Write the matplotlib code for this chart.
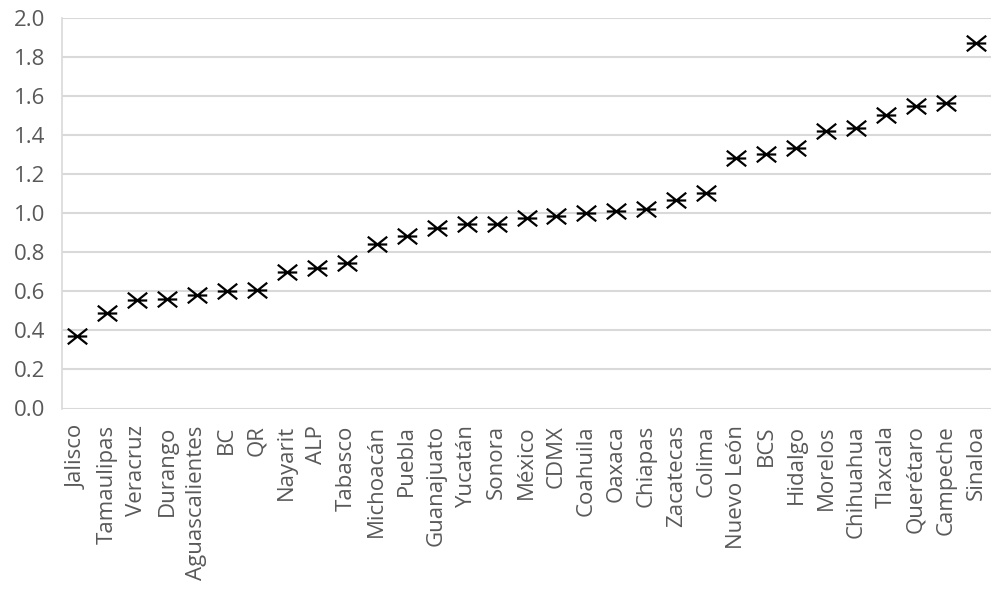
import matplotlib.pyplot as plt
from matplotlib.path import Path

# --- data ---
states = ['Jalisco', 'Tamaulipas', 'Veracruz', 'Durango', 'Aguascalientes', 'BC', 'QR',
          'Nayarit', 'ALP', 'Tabasco', 'Michoacán', 'Puebla', 'Guanajuato', 'Yucatán',
          'Sonora', 'México', 'CDMX', 'Coahuila', 'Oaxaca', 'Chiapas', 'Zacatecas',
          'Colima', 'Nuevo León', 'BCS', 'Hidalgo', 'Morelos', 'Chihuahua', 'Tlaxcala',
          'Querétaro', 'Campeche', 'Sinaloa']
values = [0.37, 0.49, 0.555, 0.56, 0.58, 0.60, 0.605,
          0.70, 0.72, 0.745, 0.84, 0.88, 0.925, 0.945,
          0.945, 0.975, 0.985, 1.00, 1.01, 1.02, 1.065,
          1.10, 1.28, 1.30, 1.33, 1.42, 1.435, 1.50,
          1.545, 1.565, 1.87]
y_ticks = [0.0, 0.2, 0.4, 0.6, 0.8, 1.0, 1.2, 1.4, 1.6, 1.8, 2.0]

plt.rcParams['font.family'] = ['Open Sans', 'DejaVu Sans']

# Excel-style "x with a bar" marker
star_x = Path([(-1, -0.8), (1, 0.8), (-1, 0.8), (1, -0.8), (-1, 0), (1, 0)],
              [Path.MOVETO, Path.LINETO, Path.MOVETO, Path.LINETO, Path.MOVETO, Path.LINETO])

fig = plt.figure(figsize=(10, 5.9), dpi=100)
ax = fig.add_axes([0.062, 1 - 408.5 / 590, 0.929, (408.5 - 17.5) / 590])

xs = list(range(len(states)))
ax.plot(xs, values, linestyle='none', marker=star_x, markersize=14,
        markeredgecolor='black', markerfacecolor='none', markeredgewidth=1.6, zorder=3)

ax.set_xlim(-0.5, len(states) - 0.5)
ax.set_ylim(0, 2.0)
ax.set_yticks(y_ticks)
ax.set_yticklabels([f'{t:.1f}' for t in y_ticks])
ax.set_xticks(xs)
ax.set_xticklabels(states, rotation=90)

ax.grid(axis='y', color='#d9d9d9', linewidth=1.5)
ax.set_axisbelow(True)
for side in ['top', 'right', 'bottom']:
    ax.spines[side].set_visible(False)
ax.spines['left'].set_color('#d9d9d9')
ax.spines['left'].set_linewidth(1.2)

ax.tick_params(axis='both', length=0, labelsize=16, colors='#595959')
ax.tick_params(axis='y', pad=12)
ax.tick_params(axis='x', pad=12)

fig.savefig('out.png', dpi=100, facecolor='white')
